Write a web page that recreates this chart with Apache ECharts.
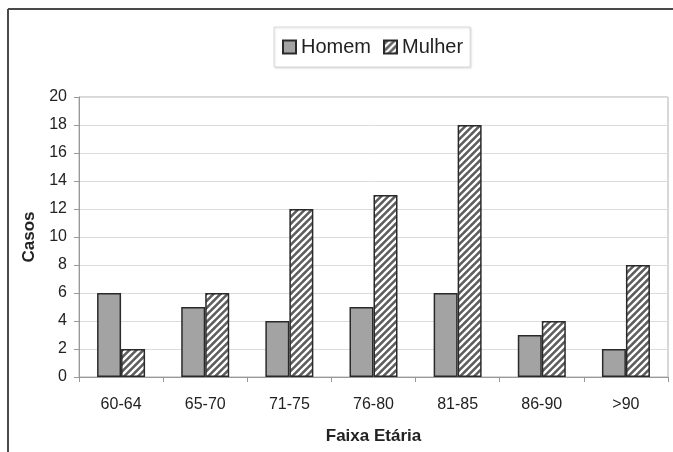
<!DOCTYPE html>
<html><head><meta charset="utf-8">
<script src="https://cdn.jsdelivr.net/npm/echarts@6/dist/echarts.min.js"></script>
<style>html,body{margin:0;padding:0;background:#fff}#c{width:673px;height:452px}</style>
</head><body><div id="c"></div>
<script>
const categories = ['60-64','65-70','71-75','76-80','81-85','86-90','>90'];
const homem = [6,5,4,5,6,3,2];
const mulher = [2,6,12,13,18,4,8];
const yTicks = [0,2,4,6,8,10,12,14,16,18,20];

function hatch(){
  const s = 7;
  const c = document.createElement('canvas');
  c.width = s; c.height = s;
  const g = c.getContext('2d');
  g.fillStyle = '#5e5e5e';
  g.fillRect(0,0,s,s);
  g.strokeStyle = '#ffffff';
  g.lineWidth = 2.3;
  g.beginPath();
  g.moveTo(-1, s+1); g.lineTo(s+1, -1);
  g.moveTo(-1, 1); g.lineTo(1, -1);
  g.moveTo(s-1, s+1); g.lineTo(s+1, s-1);
  g.stroke();
  return c;
}
const font = 'Liberation Sans, Arial, sans-serif';
const chart = echarts.init(document.getElementById('c'), null, {renderer:'canvas'});
chart.setOption({
  animation:false,
  textStyle:{fontFamily:font},
  graphic:[
    {type:'line', shape:{x1:8,y1:9,x2:673,y2:9}, style:{stroke:'#4a4a4a', lineWidth:2}},
    {type:'line', shape:{x1:8,y1:9,x2:8,y2:452}, style:{stroke:'#4a4a4a', lineWidth:2}}
  ],
  legend:{
    left:274, top:27,
    padding:[10,7,10,8],
    borderColor:'#d8d8d8', borderWidth:1,
    shadowColor:'rgba(0,0,0,0.12)', shadowBlur:2, shadowOffsetX:1, shadowOffsetY:1,
    backgroundColor:'#fff',
    icon:'rect',
    itemWidth:13, itemHeight:13, itemGap:12,
    textStyle:{fontSize:20, color:'#222', fontFamily:font},
    data:['Homem','Mulher']
  },
  grid:{left:79, right:5, top:97, bottom:75, show:true, borderColor:'#b0b0b0', borderWidth:1, backgroundColor:'transparent'},
  xAxis:{
    type:'category', data:categories,
    name:'Faixa Etária', nameLocation:'middle', nameGap:51,
    nameTextStyle:{fontSize:17, fontWeight:'bold', color:'#222', fontFamily:font},
    axisLine:{lineStyle:{color:'#999'}},
    axisTick:{show:true, length:5, lineStyle:{color:'#999'}},
    axisLabel:{fontSize:16, color:'#222', margin:20, fontFamily:font}
  },
  yAxis:{
    type:'value', min:0, max:20, interval:2,
    name:'Casos', nameLocation:'middle', nameGap:41,
    nameTextStyle:{fontSize:17, fontWeight:'bold', color:'#222', fontFamily:font},
    axisLine:{show:true, lineStyle:{color:'#999'}},
    axisTick:{show:true, length:5, lineStyle:{color:'#999'}},
    axisLabel:{fontSize:16, color:'#222', margin:12, fontFamily:font,
      formatter:v=>yTicks.includes(v)?String(v):''},
    splitLine:{lineStyle:{color:'#dcdcdc'}}
  },
  series:[
    {name:'Homem', type:'bar', data:homem, barWidth:24, barGap:'0%',
     itemStyle:{color:'#a3a3a3', borderColor:'#2a2a2a', borderWidth:1.5}},
    {name:'Mulher', type:'bar', data:mulher, barWidth:24, barGap:'0%',
     itemStyle:{color:{image:hatch(), repeat:'repeat'}, borderColor:'#2a2a2a', borderWidth:1.5}}
  ]
});
</script></body></html>
